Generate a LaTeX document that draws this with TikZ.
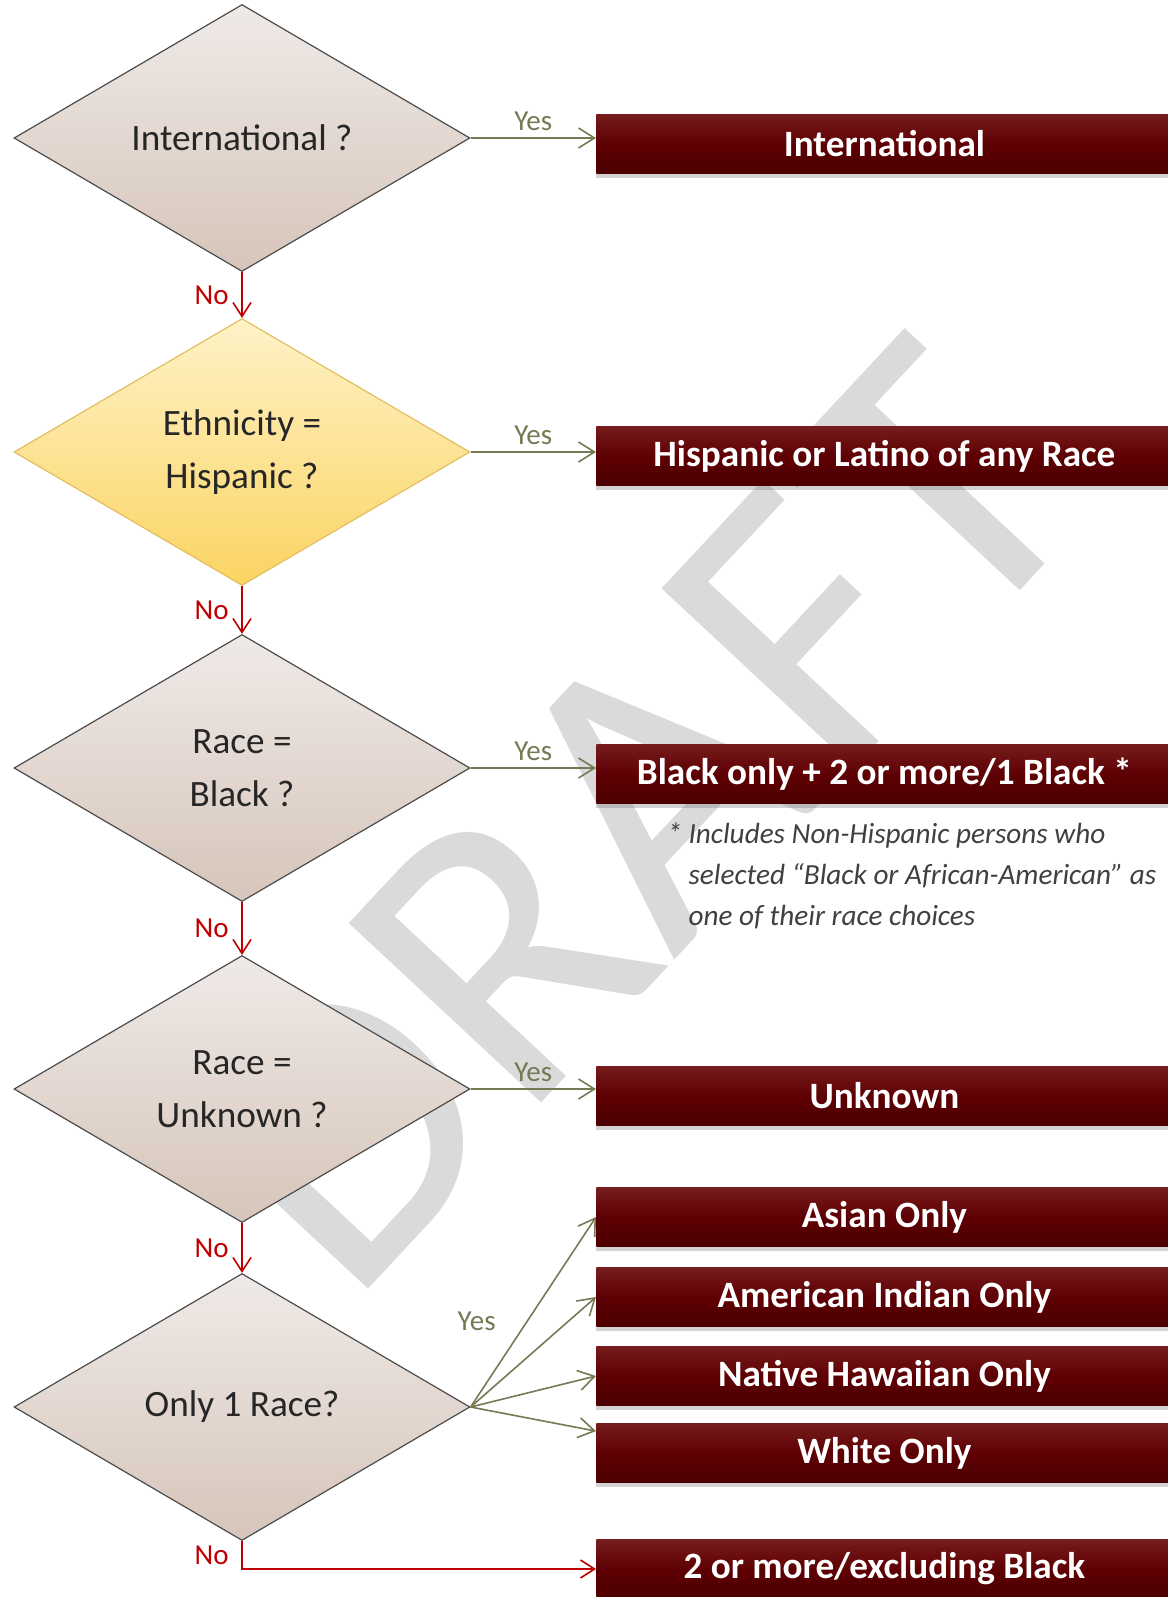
\documentclass[tikz,border=0pt]{standalone}
\usepackage{fontspec}
\setmainfont{Carlito}
\usepackage{xcolor}
\usepackage{tikz}
\usetikzlibrary{shapes.geometric, shadows, calc, arrows.meta, positioning}
\definecolor{yesolive}{RGB}{118,121,84}
\definecolor{nored}{RGB}{192,0,0}
\definecolor{textgray}{RGB}{38,38,38}
\definecolor{notegray}{RGB}{64,64,64}
\definecolor{boxtop}{RGB}{118,28,28}
\definecolor{boxmid}{RGB}{94,0,4}
\definecolor{boxbot}{RGB}{76,0,0}
\definecolor{decitop}{RGB}{239,234,231}
\definecolor{decibot}{RGB}{214,197,186}
\definecolor{hisptop}{RGB}{254,242,200}
\definecolor{hispbot}{RGB}{251,212,98}
\definecolor{hispedge}{RGB}{228,190,98}
\definecolor{watermark}{RGB}{218,218,218}

\tikzset{
	decision/.style={diamond, draw=black!70, line width=0.6pt, minimum width=228pt, minimum height=133.5pt, inner sep=0pt, top color=decitop, bottom color=decibot, text=textgray, align=center, font=\fontsize{18.6}{26.5}\selectfont},
	hispdecision/.style={decision, draw=hispedge, top color=hisptop, bottom color=hispbot},
	outcome/.style={rectangle, anchor=west, minimum width=288pt, minimum height=29.5pt, inner sep=0pt, top color=boxtop, bottom color=boxbot, middle color=boxmid, text=white, font=\fontsize{18.6}{22}\selectfont\bfseries, drop shadow={shadow xshift=0pt, shadow yshift=-2pt, opacity=0.35}},
	yesarrow/.style={draw=yesolive, line width=0.8pt, -{Straight Barb[length=8pt,width=10pt]}},
	noarrow/.style={draw=nored, line width=0.8pt, -{Straight Barb[length=7pt,width=9pt]}},
	yeslabel/.style={text=yesolive, font=\fontsize{14.5}{17}\selectfont},
	nolabel/.style={text=nored, font=\fontsize{14.5}{17}\selectfont},
}

\begin{document}
\begin{tikzpicture}[x=0.5pt, y=-0.5pt]
	\useasboundingbox (0,0) rectangle (1168,1597);
	\pgfmathsetmacro{\decx}{242}
	\pgfmathsetmacro{\boxx}{596}
	
	\node[rotate=47, text=watermark, font=\fontsize{205}{205}\selectfont] (wm) at (629,817) {DRAFT};
	
	\node[decision] (intl) at (\decx,138) {International ?};
	\node[hispdecision] (hisp) at (\decx,452) {Ethnicity =\\Hispanic ?};
	\node[decision] (black) at (\decx,768) {Race =\\Black ?};
	\node[decision] (unkn) at (\decx,1089) {Race =\\Unknown ?};
	\node[decision] (onerace) at (\decx,1407) {Only 1 Race?};
	
	\node[outcome] (bIntl) at (\boxx,144) {International};
	\node[outcome] (bHisp) at (\boxx,456) {Hispanic or Latino of any Race};
	\node[outcome] (bBlack) at (\boxx,774) {Black only + 2 or more/1 Black *};
	\node[outcome] (bUnkn) at (\boxx,1096) {Unknown};
	\node[outcome] (bAsian) at (\boxx,1217) {Asian Only};
	\node[outcome] (bAmInd) at (\boxx,1297) {American Indian Only};
	\node[outcome] (bHawaii) at (\boxx,1376) {Native Hawaiian Only};
	\node[outcome] (bWhite) at (\boxx,1453) {White Only};
	\node[outcome] (bMulti) at (\boxx,1569) {2 or more/excluding Black};
	
	\node[anchor=north west, inner sep=0pt, align=left, text=notegray, font=\fontsize{14.6}{20.5}\selectfont\itshape] (note) at (667,822) {* Includes Non-Hispanic persons who\\\phantom{* }selected “Black or African-American” as\\\phantom{* }one of their race choices};
	
	\draw[yesarrow] (intl.east) -- node[yeslabel, above]{Yes} (intl.east -| bIntl.west);
	\draw[yesarrow] (hisp.east) -- node[yeslabel, above]{Yes} (hisp.east -| bHisp.west);
	\draw[yesarrow] (black.east) -- node[yeslabel, above]{Yes} (black.east -| bBlack.west);
	\draw[yesarrow] (unkn.east) -- node[yeslabel, above]{Yes} (unkn.east -| bUnkn.west);
	
	\draw[noarrow] (intl.south) -- node[nolabel, left=3pt]{No} (hisp.north);
	\draw[noarrow] (hisp.south) -- node[nolabel, left=3pt]{No} (black.north);
	\draw[noarrow] (black.south) -- node[nolabel, left=3pt]{No} (unkn.north);
	\draw[noarrow] (unkn.south) -- node[nolabel, left=3pt]{No} (onerace.north);
	\draw[noarrow] (onerace.south) |- node[nolabel, pos=0.25, left=3pt]{No} (bMulti.west);
	
	\draw[yesarrow] (onerace.east) -- node[yeslabel, pos=0.45, left=12pt]{Yes} (bAsian.west);
	\draw[yesarrow] (onerace.east) -- (bAmInd.west);
	\draw[yesarrow] (onerace.east) -- (bHawaii.west);
	\draw[yesarrow] (onerace.east) -- ($(bWhite.north west)+(0,8)$);
\end{tikzpicture}
\end{document}
